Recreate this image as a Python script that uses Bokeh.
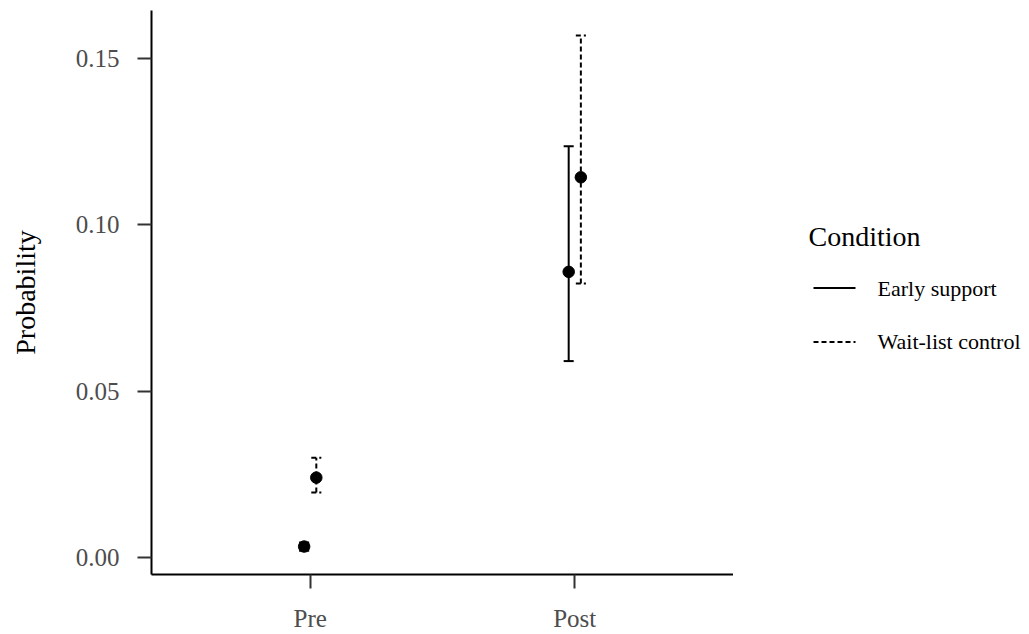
from bokeh.plotting import figure
from bokeh.layouts import row
from bokeh.models import ColumnDataSource, FixedTicker, NumeralTickFormatter, Range1d
from bokeh.core.properties import value
from bokeh.embed import file_html
from bokeh.resources import INLINE

# ---- data ----
times = ["Pre", "Post"]
conditions = ["Early support", "Wait-list control"]
early_est = [0.0033, 0.0858]
early_lo = [0.0020, 0.0590]
early_hi = [0.0045, 0.1235]
wait_est = [0.0240, 0.1142]
wait_lo = [0.0195, 0.0823]
wait_hi = [0.0300, 0.1568]
dashes = ["solid", "5 3"]

FONT = "Liberation Serif"
dodge = 0.023
cap = 0.019
H = 634

p = figure(width=733, height=H, output_backend="svg", toolbar_location=None,
           x_range=Range1d(0.4, 2.6), y_range=Range1d(-0.0051, 0.1643),
           min_border_left=151, min_border_right=0, min_border_top=10, min_border_bottom=59)
p.background_fill_color = "white"
p.border_fill_color = "white"
p.outline_line_color = None
p.grid.visible = False

for est, lo, hi, off, dash in [(early_est, early_lo, early_hi, -dodge, dashes[0]),
                               (wait_est, wait_lo, wait_hi, dodge, dashes[1])]:
    xs = [i + 1 + off for i in range(len(times))]
    src = ColumnDataSource(dict(x=xs, est=est, lo=lo, hi=hi,
                                x0=[x - cap for x in xs], x1=[x + cap for x in xs]))
    p.segment(x0="x", y0="lo", x1="x", y1="hi", source=src, line_color="black",
              line_width=2, line_dash=dash)
    p.segment(x0="x0", y0="hi", x1="x1", y1="hi", source=src, line_color="black",
              line_width=2, line_dash=dash)
    p.segment(x0="x0", y0="lo", x1="x1", y1="lo", source=src, line_color="black",
              line_width=2, line_dash=dash)
    p.scatter(x="x", y="est", source=src, size=11.5, color="black")

for ax in (p.xaxis[0], p.yaxis[0]):
    ax.axis_line_color = "black"
    ax.axis_line_width = 2
    ax.major_tick_line_color = "#333333"
    ax.major_tick_line_width = 2
    ax.major_tick_in = 0
    ax.major_tick_out = 14
    ax.minor_tick_line_color = None
    ax.major_label_text_font = FONT
    ax.major_label_text_font_size = "25px"
    ax.major_label_text_color = "#4d4d4d"
    ax.axis_label_text_font = FONT
    ax.axis_label_text_font_size = "28px"
    ax.axis_label_text_font_style = "normal"
    ax.axis_label_text_color = "black"

p.xaxis.ticker = FixedTicker(ticks=[1, 2])
p.xaxis.major_label_overrides = {1: times[0], 2: times[1]}
p.xaxis.major_label_standoff = 16
p.yaxis.ticker = FixedTicker(ticks=[0, 0.05, 0.10, 0.15])
p.yaxis.formatter = NumeralTickFormatter(format="0.00")
p.yaxis.major_label_standoff = 18
p.yaxis.axis_label = "Probability"
p.yaxis.axis_label_standoff = 32

# ---- legend panel (pixel coordinates of the page, y downward; frame aligned with main plot) ----
lg = figure(width=290, height=H, output_backend="svg", toolbar_location=None,
            x_range=Range1d(0, 290), y_range=Range1d(575, 10),
            x_axis_type=None, y_axis_type=None,
            min_border_left=0, min_border_right=0, min_border_top=10, min_border_bottom=59)
lg.outline_line_color = None
lg.grid.visible = False
lg.background_fill_color = "white"
lg.border_fill_color = "white"

lg.text(x=[75], y=[236], text=["Condition"], text_font=value(FONT), text_font_size="28px",
        text_baseline="middle", text_align="left", text_color="black")
item_y = [288, 342]
for yy, lab, dash in zip(item_y, conditions, dashes):
    lg.segment(x0=[80], y0=[yy], x1=[122], y1=[yy], line_color="black", line_width=2,
               line_dash=dash)
    lg.text(x=[144], y=[yy], text=[lab], text_font=value(FONT), text_font_size="22px",
            text_baseline="middle", text_align="left", text_color="black")

open("out.html", "w").write(file_html(row(p, lg), INLINE))
